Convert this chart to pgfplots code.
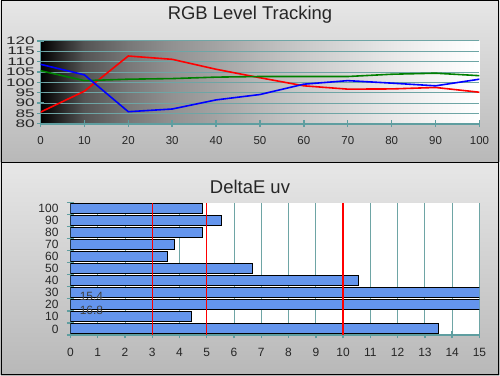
\documentclass[border=0pt]{standalone}
\usepackage{graphicx}
\usepackage{fontspec}
\setmainfont{Liberation Sans}
\usepackage{pgfplots}
\pgfplotsset{compat=1.18}
\definecolor{tealax}{RGB}{95,158,160}
\definecolor{tealgrid}{RGB}{110,165,165}
\definecolor{barblue}{RGB}{100,149,237}
\definecolor{panellight}{RGB}{231,231,231}
\definecolor{paneldark}{RGB}{184,184,184}
\definecolor{refred}{RGB}{255,0,0}
\pgfdeclarehorizontalshading{graygrad}{100bp}{%
  rgb(0bp)=(0,0,0); rgb(25bp)=(0,0,0); rgb(30bp)=(0.33,0.33,0.33);
  rgb(35bp)=(0.47,0.47,0.47); rgb(40bp)=(0.57,0.57,0.57); rgb(45bp)=(0.64,0.64,0.64);
  rgb(50bp)=(0.72,0.72,0.72); rgb(55bp)=(0.79,0.79,0.79); rgb(60bp)=(0.85,0.85,0.85);
  rgb(65bp)=(0.91,0.91,0.91); rgb(70bp)=(0.96,0.96,0.96); rgb(75bp)=(1,1,1); rgb(100bp)=(1,1,1)}
\begin{document}
\begin{tikzpicture}
% panels
\shade[top color=panellight, bottom color=paneldark] (0pt,213pt) rectangle (500pt,376pt);
\shade[top color=panellight, bottom color=paneldark] (0pt,0pt) rectangle (500pt,213pt);
\draw[black, line width=1.2pt] (0.6pt,0.6pt) rectangle (499.4pt,375.4pt);
\draw[black, line width=1.2pt] (0pt,213pt) -- (500pt,213pt);
\useasboundingbox (0pt,0pt) rectangle (500pt,376pt);
\node[anchor=base, font=\fontsize{18.5}{20}\selectfont, text=black!85] at (250pt,356pt) {RGB Level Tracking};
\node[anchor=base, font=\fontsize{18.5}{20}\selectfont, text=black!85] at (250pt,182pt) {DeltaE uv};
% top axis
\begin{axis}[
  at={(40pt,252pt)}, anchor=south west, scale only axis,
  width=440pt, height=83pt,
  xmin=0, xmax=100, ymin=80, ymax=120,
  xtick={0,10,...,100}, ytick={80,85,...,120},
  axis lines*=left,
  axis line style={draw=tealax, line width=1.6pt},
  tick align=center, major tick length=7pt,
  tick style={draw=tealax, line width=1.4pt},
  ymajorgrids, grid style={draw=tealgrid, line width=0.9pt},
  axis background/.style={shading=graygrad},
  /pgf/number format/assume math mode=true,
  xticklabel style={font=\fontsize{11.5}{12}\selectfont, text=black!85, yshift=-6pt},
  yticklabel={\scalebox{1.5}[0.95]{\pgfmathprintnumber{\tick}}},
  yticklabel style={font=\fontsize{11.5}{12}\selectfont, text=black!85, inner sep=0pt, xshift=-2pt},
  clip=true,
]
\addplot[red, line width=1.6pt] coordinates {(0,85.6) (10,95.7) (20,112.7) (30,111.1) (40,106.3) (50,102.2) (60,98.3) (70,96.7) (80,96.8) (90,97.5) (100,95.2)};
\addplot[green!50!black, line width=1.6pt] coordinates {(0,105.6) (10,100.8) (20,101.5) (30,101.8) (40,102.5) (50,102.8) (60,102.8) (70,102.8) (80,103.9) (90,104.4) (100,103.2)};
\addplot[blue, line width=1.6pt] coordinates {(0,108.7) (10,103.6) (20,85.8) (30,87.1) (40,91.5) (50,94.1) (60,99.1) (70,100.8) (80,99.6) (90,98.3) (100,101.5)};
\end{axis}
% bottom axis
\begin{axis}[
  at={(70pt,40.3pt)}, anchor=south west, scale only axis,
  width=410pt, height=132.7pt,
  xmin=0, xmax=15, ymin=-0.5, ymax=10.5,
  xtick={0,1,...,15},
  ytick={0,1,...,10}, yticklabels={0,10,20,30,40,50,60,70,80,90,100},
  minor ytick={-0.5,0.5,...,10.5},
  axis lines*=left,
  axis line style={draw=tealax, line width=1.6pt},
  tick align=center, major tick length=7pt, minor tick length=7pt,
  major x tick style={draw=tealax, line width=1.4pt},
  major y tick style={draw=none},
  minor tick style={draw=tealax, line width=1.4pt},
  xmajorgrids, grid style={draw=tealgrid, line width=0.9pt},
  axis background/.style={fill=white},
  /pgf/number format/assume math mode=true,
  xticklabel style={font=\fontsize{12}{13}\selectfont, text=black!85, yshift=-6pt},
  yticklabel style={font=\fontsize{12}{13}\selectfont, text=black!85, xshift=-5pt},
  clip=true,
]
\addplot[xbar, bar width=0.83, fill=barblue, draw=black, line width=0.9pt] coordinates {(13.48,0) (4.44,1) (16.8,2) (15.4,3) (10.56,4) (6.67,5) (3.56,6) (3.82,7) (4.84,8) (5.54,9) (4.84,10)};
\addplot[draw=refred, line width=1.4pt, forget plot, mark=none] coordinates {(10,-0.5) (10,10.5)};
\addplot[draw=refred, line width=1.4pt, forget plot, mark=none] coordinates {(3,-0.5) (3,10.5)};
\addplot[draw=refred, line width=1.4pt, forget plot, mark=none] coordinates {(5,-0.5) (5,10.5)};
\node[font=\fontsize{12}{13}\selectfont, text=black!75] at (axis cs:0.77,2.7) {15.4};
\node[font=\fontsize{12}{13}\selectfont, text=black!75] at (axis cs:0.77,1.55) {16.8};
\end{axis}
\end{tikzpicture}
\end{document}
